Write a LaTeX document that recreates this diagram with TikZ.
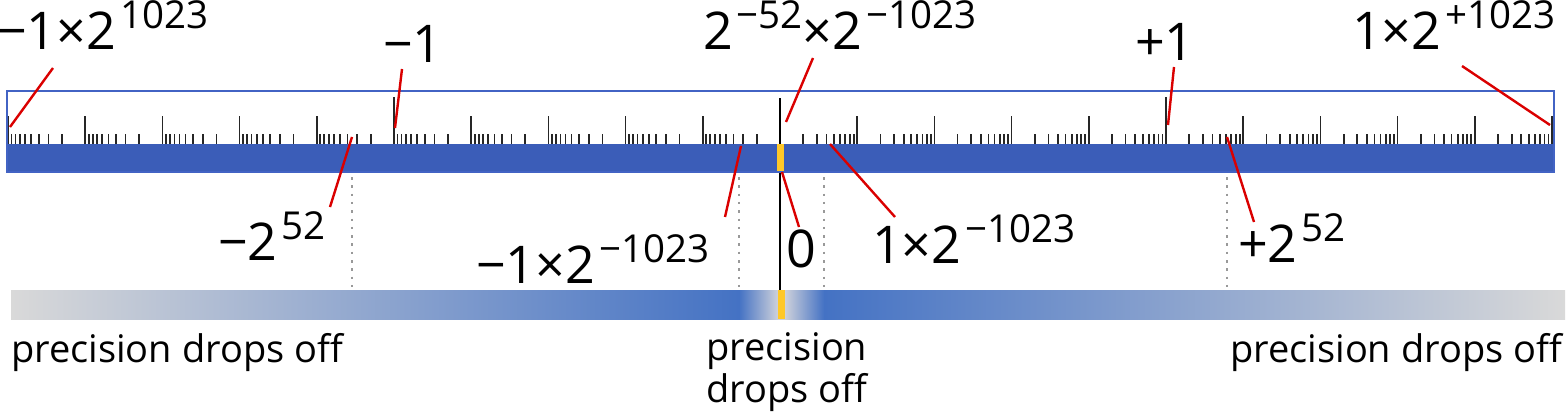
\documentclass[tikz,border=0pt]{standalone}
\usepackage{fontspec}
\setmainfont{Open Sans}
\definecolor{barblue}{RGB}{59,93,184}
\definecolor{boxblue}{RGB}{66,99,196}
\definecolor{fadeblue}{RGB}{68,114,196}
\definecolor{fadegray}{RGB}{217,217,217}
\definecolor{fadelight}{RGB}{206,209,219}
\definecolor{zeroyel}{RGB}{255,200,40}
\definecolor{leadred}{RGB}{218,0,0}
\pgfdeclarehorizontalshading{precfade}{100bp}{color(0bp)=(fadegray); color(25bp)=(fadegray);
  color(48.42bp)=(fadeblue); color(49.68bp)=(fadelight); color(49.9bp)=(fadelight);
  color(51.16bp)=(fadeblue); color(75bp)=(fadegray); color(100bp)=(fadegray)}
\newcommand{\expo}[1]{\kern4pt\raisebox{21pt}{\fontsize{38.5}{40}\selectfont #1}}

\begin{document}
\begin{tikzpicture}[x=1pt,y=-1pt,
  lbl/.style={inner sep=0pt,anchor=base west,font=\fontsize{52}{60}\selectfont},
  note/.style={inner sep=0pt,anchor=base west,font=\fontsize{38}{42}\selectfont,align=center},
  tick/.style={line width=1.7pt,black!85},
  zeroline/.style={line width=2pt,black},
  leader/.style={draw=leadred,line width=2.4pt},
  guide/.style={draw=black!40,line width=2.5pt,dash pattern=on 2.5pt off 5.8pt}]
  \useasboundingbox (0,0) rectangle (1568,412);

  % ---------- ruler ----------
  \coordinate (ztop) at (780,98);
  \coordinate (zbot) at (780,290);
  \draw[zeroline] (ztop) -- (zbot);
  \fill[barblue] (7,144) rectangle (1554,172);
  \fill[zeroyel] (777,144) rectangle (784,172);
  \foreach \k in {0,...,9}{
    \foreach \m in {2,...,9}{
      \draw[tick] ({780+77.2*(\k+log10(\m))},134) -- ++(0,10);
      \draw[tick] ({780-77.2*(\k+log10(\m))},134) -- ++(0,10);
    }
    \draw[tick] ({780+77.2*(\k+1)},116) -- ++(0,28);
    \draw[tick] ({780-77.2*(\k+1)},116) -- ++(0,28);
  }
  \draw[tick] (394,97) -- ++(0,47);
  \draw[tick] (1166,97) -- ++(0,47);
  \draw[boxblue,line width=1.6pt] (7,91) rectangle (1554,172);

  % ---------- guides and precision bar ----------
  \foreach \gx in {352,739,824,1227}
    \draw[guide] (\gx,177) -- (\gx,290);
  \shade[shading=precfade] (11,290) rectangle (1565,319);
  \fill[zeroyel] (778,290) rectangle (785,319);

  % ---------- labels ----------
  \node[lbl] (lmaxn) at (-3,50) {−1×2\expo{1023}};
  \node[lbl] (lmone) at (383,63) {−1};
  \node[lbl] (lsub) at (703,50) {2\expo{−52}×2\expo{−1023}};
  \node[lbl] (lpone) at (1135,60) {+1};
  \node[lbl] (lmaxp) at (1352,50) {1×2\expo{+1023}};
  \node[lbl] (lbign) at (218,260) {−2\expo{52}};
  \node[lbl] (lminn) at (476,283) {−1×2\expo{−1023}};
  \node[lbl] (lzero) at (786,267) {0};
  \node[lbl] (lminp) at (872,263) {1×2\expo{−1023}};
  \node[lbl] (lbigp) at (1238,262) {+2\expo{52}};

  \node[note] (pleft) at (11,362) {precision drops off};
  \node[note] (pmid) at (706,402) {precision\\drops off};
  \node[note] (pright) at (1230,362) {precision drops off};

  % ---------- leaders ----------
  \coordinate (amaxn) at (53,68);   \coordinate (tmaxn) at (10,127);
  \coordinate (amone) at (402,69);  \coordinate (tmone) at (395,128);
  \coordinate (asub) at (813,58);   \coordinate (tsub) at (786,122);
  \coordinate (apone) at (1174,67); \coordinate (tpone) at (1168,125);
  \coordinate (amaxp) at (1462,66); \coordinate (tmaxp) at (1550,125);
  \coordinate (abign) at (330,207); \coordinate (tbign) at (352,137);
  \coordinate (aminn) at (725,217); \coordinate (tminn) at (741,146);
  \coordinate (azero) at (799,227); \coordinate (tzero) at (782,172);
  \coordinate (aminp) at (895,217); \coordinate (tminp) at (830,144);
  \coordinate (abigp) at (1254,222); \coordinate (tbigp) at (1227,137);
  \foreach \p in {maxn,mone,sub,pone,maxp,bign,minn,zero,minp,bigp}
    \draw[leader] (a\p) -- (t\p);
\end{tikzpicture}
\end{document}
